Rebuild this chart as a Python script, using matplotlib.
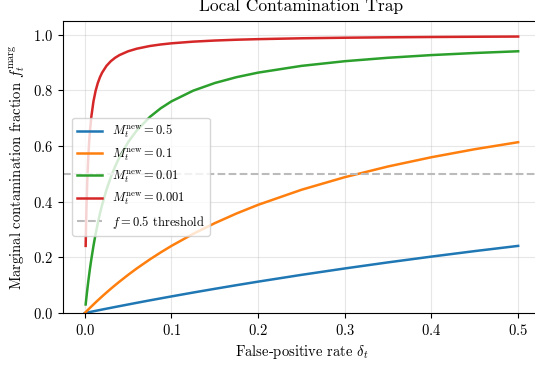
import numpy as np
import matplotlib
matplotlib.use("Agg")
import matplotlib.pyplot as plt

plt.rcParams["font.family"] = "serif"
plt.rcParams["font.serif"] = ["cmr10"]
plt.rcParams["mathtext.fontset"] = "cm"
plt.rcParams["axes.formatter.use_mathtext"] = True

# false-positive rate delta_t (x positions)
delta = [0.001, 0.0015, 0.002, 0.003, 0.004, 0.005, 0.006, 0.0075, 0.01, 0.0125,
         0.015, 0.0175, 0.02, 0.025, 0.03, 0.035, 0.04, 0.05, 0.06, 0.075,
         0.0875, 0.1, 0.125, 0.15, 0.175, 0.2, 0.25, 0.3, 0.35, 0.4, 0.45, 0.5]

# marginal contamination fraction for each M_t^new
f_m05 = [0.0006, 0.0010, 0.0013, 0.0019, 0.0025, 0.0032, 0.0038, 0.0048, 0.0063, 0.0079,
         0.0095, 0.0110, 0.0126, 0.0157, 0.0187, 0.0218, 0.0248, 0.0308, 0.0368, 0.0456,
         0.0527, 0.0598, 0.0737, 0.0871, 0.1002, 0.1129, 0.1373, 0.1603, 0.1822, 0.2029,
         0.2227, 0.2414]
f_m01 = [0.0032, 0.0048, 0.0063, 0.0095, 0.0126, 0.0157, 0.0187, 0.0233, 0.0308, 0.0383,
         0.0456, 0.0528, 0.0598, 0.0737, 0.0872, 0.1002, 0.1129, 0.1373, 0.1604, 0.1927,
         0.2178, 0.2414, 0.2846, 0.3231, 0.3578, 0.3890, 0.4431, 0.4884, 0.5269, 0.5601,
         0.5889, 0.6141]
f_m001 = [0.0308, 0.0456, 0.0598, 0.0872, 0.1129, 0.1373, 0.1604, 0.1927, 0.2414, 0.2846,
          0.3231, 0.3578, 0.3890, 0.4431, 0.4884, 0.5270, 0.5601, 0.6141, 0.6563, 0.7048,
          0.7358, 0.7609, 0.7992, 0.8268, 0.8478, 0.8642, 0.8884, 0.9052, 0.9176, 0.9272,
          0.9347, 0.9409]
f_m0001 = [0.2414, 0.3232, 0.3890, 0.4884, 0.5601, 0.6141, 0.6563, 0.7048, 0.7609, 0.7991,
           0.8268, 0.8478, 0.8642, 0.8884, 0.9052, 0.9176, 0.9272, 0.9409, 0.9502, 0.9598,
           0.9653, 0.9695, 0.9755, 0.9795, 0.9824, 0.9845, 0.9876, 0.9896, 0.9911, 0.9922,
           0.9931, 0.9938]

series = [("0.5", f_m05, "#1f77b4"), ("0.1", f_m01, "#ff7f0e"),
          ("0.01", f_m001, "#2ca02c"), ("0.001", f_m0001, "#d62728")]
threshold = 0.5

fig = plt.figure(figsize=(5.35, 3.67), dpi=100)
ax = fig.add_axes([0.118, 0.147, 0.891, 0.796])

# blue and orange start from the origin
for lab, vals, col in series:
    x, y = delta, vals
    if lab in ("0.5", "0.1"):
        x = [0.0] + delta
        y = [0.0] + vals
    ax.plot(x, y, color=col, lw=1.8, label=rf"$M_t^{{\mathrm{{new}}}} = {lab}$")
ax.axhline(threshold, color="#bbbbbb", ls="--", lw=1.5, label=r"$f = 0.5$ threshold")

ax.set_xlim(-0.025, 0.525)
ax.set_ylim(0, 1.05)
ax.set_xlabel(r"False-positive rate $\delta_t$", fontsize=10.5)
ax.set_ylabel(r"Marginal contamination fraction $f_t^{\mathrm{marg}}$", fontsize=10.5)
ax.set_title("Local Contamination Trap", fontsize=12.5, pad=7.5)
ax.tick_params(labelsize=10.5)
ax.grid(True, alpha=0.3)
ax.legend(fontsize=9, loc="upper left", bbox_to_anchor=(0.019, 0.668),
          borderaxespad=0, framealpha=0.8)

fig.savefig("out.png", dpi=100)
